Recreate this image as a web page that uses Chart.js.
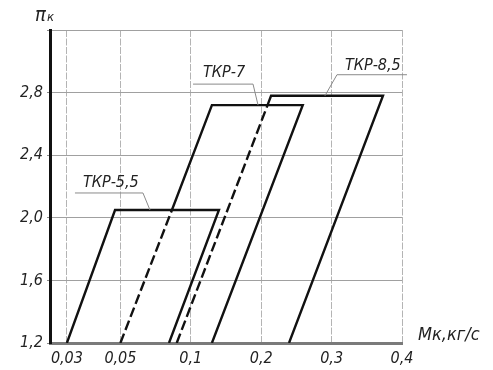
<!DOCTYPE html>
<html>
<head>
<meta charset="utf-8">
<script src="https://cdn.jsdelivr.net/npm/chart.js@4"></script>
<style>
  html, body { margin: 0; padding: 0; background: #fff; }
  #wrap { width: 493px; height: 370px; }
</style>
</head>
<body>
<div id="wrap"><canvas id="grafico"></canvas></div>
<script>
// ось Мк неравномерная: подписи стоят не пропорционально значениям
const xTickValues = [0.03, 0.05, 0.1, 0.2, 0.3, 0.4];
const xTickLabels = ["0,03", "0,05", "0,1", "0,2", "0,3", "0,4"];
const xTickPos = [0.24, 1, 2, 3, 4, 5];
const yTicks = [1.2, 1.6, 2.0, 2.4, 2.8, 3.2];

// поля характеристик (Мк, кг/с ; πк)
const tkr55M = [0.03, 0.048, 0.14, 0.0845];
const tkr55Pi = [1.2, 2.05, 2.05, 1.2];
const tkr7M = [0.05, 0.0866, 0.13, 0.259, 0.13];
const tkr7Pi = [1.2, 2.05, 2.72, 2.72, 1.2];
const tkr85M = [0.09, 0.209, 0.214, 0.373, 0.2395];
const tkr85Pi = [1.2, 2.72, 2.78, 2.78, 1.2];

// выноски
const names = ["ТКР-5,5", "ТКР-7", "ТКР-8,5"];
const nameM = [0.071, 0.1955, 0.2906];
const namePi = [2.05, 2.72, 2.78];

const FONT = "'Liberation Sans Narrow', 'DejaVu Sans Condensed', sans-serif";

function posM(m) {
  let i = 0;
  while (i < xTickValues.length - 2 && m > xTickValues[i + 1]) i++;
  const t = (m - xTickValues[i]) / (xTickValues[i + 1] - xTickValues[i]);
  return xTickPos[i] + t * (xTickPos[i + 1] - xTickPos[i]);
}

function points(ms, pis) {
  return ms.map((m, i) => ({ x: posM(m), y: pis[i] }));
}

// первый отрезок линии — штриховой (невидимый контур)
const hidden = ctx => ctx.p0DataIndex === 0 ? [10, 4] : undefined;

const leaders = {
  id: "leaders",
  afterDatasetsDraw(chart) {
    const ctx = chart.ctx;
    const x = chart.scales.x, y = chart.scales.y;
    // [dx, dy до излома, конец полки, начало текста, центр текста]
    const geo = [
      [-7, -17, -75, -67, -27],
      [-5, -21, -65, -55, -32],
      [12, -21, 82, 20, -30]
    ];
    ctx.save();
    names.forEach((n, i) => {
      const px = x.getPixelForValue(posM(nameM[i]));
      const py = y.getPixelForValue(namePi[i]);
      const g = geo[i];
      ctx.strokeStyle = "#8a8a8a";
      ctx.lineWidth = 1;
      ctx.beginPath();
      ctx.moveTo(px, py);
      ctx.lineTo(px + g[0], py + g[1]);
      ctx.lineTo(px + g[2], py + g[1]);
      ctx.stroke();
      ctx.fillStyle = "#222";
      ctx.font = "italic 16px " + FONT;
      ctx.textAlign = "left";
      ctx.textBaseline = "middle";
      ctx.fillText(n, px + g[3], py + g[4]);
    });

    // подписи осей
    ctx.textBaseline = "alphabetic";
    ctx.font = "italic 20px " + FONT;
    ctx.fillText("π", 35, 21);
    ctx.font = "italic 13px " + FONT;
    ctx.fillText("к", 47, 21);
    ctx.font = "italic 18px " + FONT;
    ctx.fillText("Mк,кг/с", 418, 340);
    ctx.restore();
  }
};

const ctx = document.getElementById("grafico");
const linha = { borderColor: "#111", borderWidth: 2.4, pointRadius: 0, fill: false, tension: 0 };

new Chart(ctx, {
  type: "line",
  data: {
    datasets: [
      { ...linha, label: "ТКР-5,5", data: points(tkr55M, tkr55Pi) },
      { ...linha, label: "ТКР-7", data: points(tkr7M, tkr7Pi), segment: { borderDash: hidden } },
      { ...linha, label: "ТКР-8,5", data: points(tkr85M, tkr85Pi), segment: { borderDash: hidden } }
    ]
  },
  options: {
    responsive: true,
    maintainAspectRatio: false,
    animation: false,
    layout: { padding: { top: 30, right: 91, left: 0, bottom: 0 } },
    plugins: { legend: { display: false }, tooltip: { enabled: false } },
    scales: {
      x: {
        type: "linear",
        min: 0,
        max: 5,
        afterBuildTicks: s => { s.ticks = xTickPos.map(v => ({ value: v })); },
        afterFit: s => { s.height = 27; },
        ticks: {
          callback: (v, i) => xTickLabels[i],
          color: "#222",
          padding: 4,
          maxRotation: 0,
          font: { family: FONT, size: 16, style: "italic" }
        },
        grid: { color: "#b4b4b4", lineWidth: 1, tickLength: 2, tickColor: "#888" },
        border: { display: true, color: "#7a7a7a", width: 3, dash: [7, 1.5] }
      },
      y: {
        type: "linear",
        min: 1.2,
        max: 3.2,
        afterBuildTicks: s => { s.ticks = yTicks.map(v => ({ value: v })); },
        afterFit: s => { s.width = 50; },
        ticks: {
          callback: v => v >= 3.2 ? "" : v.toFixed(1).replace(".", ","),
          color: "#222",
          padding: 4,
          font: { family: FONT, size: 16, style: "italic" }
        },
        grid: { color: "#a0a0a0", lineWidth: 1, tickLength: 3, tickColor: "#888" },
        border: { display: true, color: "#111", width: 3 }
      }
    }
  },
  plugins: [leaders]
});
</script>
</body>
</html>
